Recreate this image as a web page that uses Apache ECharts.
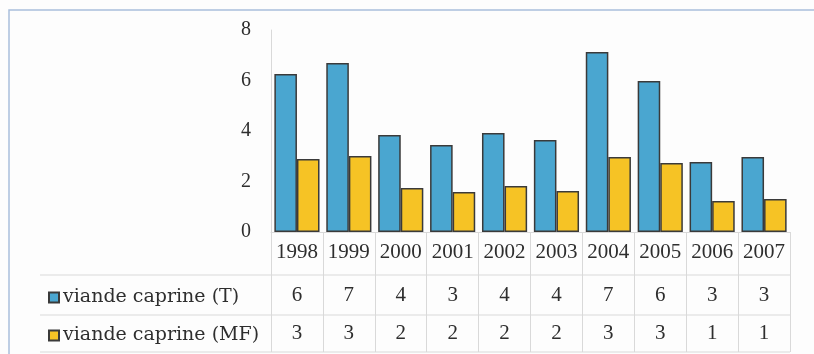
<!DOCTYPE html>
<html>
<head>
    <meta charset="utf-8">
    <title>viande caprine</title>
    <script src="https://cdn.jsdelivr.net/npm/echarts@6/dist/echarts.min.js"></script>
    <style>
        html, body { margin: 0; padding: 0; background: #fdfdfd; }
        #chart { width: 814px; height: 354px; }
    </style>
</head>
<body>
<div id="chart"></div>
<script type="text/javascript">
    // ---- data ----
    var years = ['1998', '1999', '2000', '2001', '2002', '2003', '2004', '2005', '2006', '2007'];
    var seriesNames = ['viande caprine (T)', 'viande caprine (MF)'];
    var valuesT = [6.26, 6.69, 3.84, 3.45, 3.92, 3.64, 7.13, 5.98, 2.77, 2.97];
    var valuesMF = [2.89, 3.01, 1.74, 1.58, 1.82, 1.62, 2.97, 2.73, 1.23, 1.31];
    // values printed in the table under the chart
    var tableT = [6, 7, 4, 3, 4, 4, 7, 6, 3, 3];
    var tableMF = [3, 3, 2, 2, 2, 2, 3, 3, 1, 1];
    var yTicks = [0, 2, 4, 6, 8];

    var serif = '"Liberation Serif", "DejaVu Serif", serif';
    var wideSerif = '"DejaVu Serif", "Liberation Serif", serif';
    var blue = '#4aa6d0';
    var yellow = '#f6c325';
    var gridLine = '#d9d9d9';
    var textColor = '#2e2e2e';

    var myChart = echarts.init(document.getElementById('chart'));

    // one hidden-line axis per table row, labels drawn from the table arrays
    function tableAxis(rowValues, offset) {
        return {
            type: 'category',
            data: years,
            gridIndex: 0,
            position: 'bottom',
            offset: offset,
            axisLine: {show: false},
            axisTick: {show: false},
            axisLabel: {
                interval: 0,
                margin: 0,
                verticalAlign: 'middle',
                fontFamily: serif,
                fontSize: 21,
                color: textColor,
                formatter: function (v, i) { return String(rowValues[i]); }
            }
        };
    }

    function rowLegend(name, top) {
        return {
            data: [name], orient: 'vertical', left: 43, top: top,
            icon: 'rect', itemWidth: 10, itemHeight: 10, itemGap: 0,
            textStyle: {fontFamily: wideSerif, fontSize: 19, color: textColor, padding: [0, 0, 0, -1]},
            selectedMode: false
        };
    }

    myChart.setOption({
        backgroundColor: '#fdfdfd',
        animation: false,
        grid: {left: 271, right: 24, top: 30, bottom: 122},
        legend: [
            rowLegend(seriesNames[0], 283),
            rowLegend(seriesNames[1], 321)
        ],
        xAxis: [
            {
                type: 'category',
                data: years,
                axisLine: {show: true, lineStyle: {color: gridLine}},
                axisTick: {show: true, interval: 0, length: 120, lineStyle: {color: gridLine}},
                axisLabel: {
                    interval: 0,
                    margin: 20,
                    verticalAlign: 'middle',
                    fontFamily: serif,
                    fontSize: 21,
                    color: textColor
                }
            },
            tableAxis(tableT, 63),
            tableAxis(tableMF, 101)
        ],
        yAxis: {
            type: 'value',
            min: yTicks[0],
            max: yTicks[yTicks.length - 1],
            interval: 2,
            axisLine: {show: true, lineStyle: {color: gridLine}},
            axisTick: {show: false},
            splitLine: {show: false},
            axisLabel: {margin: 20, fontFamily: serif, fontSize: 20, color: textColor}
        },
        series: [
            {
                name: seriesNames[0],
                type: 'bar',
                data: valuesT,
                barGap: '0%',
                barCategoryGap: '13%',
                itemStyle: {color: blue, borderColor: '#3a3a3a', borderWidth: 1.5}
            },
            {
                name: seriesNames[1],
                type: 'bar',
                data: valuesMF,
                itemStyle: {color: yellow, borderColor: '#3a3a3a', borderWidth: 1.5}
            }
        ],
        graphic: [
            // outer frame
            {type: 'rect', shape: {x: 9, y: 10, width: 900, height: 400},
                style: {fill: 'none', stroke: '#a9bfdc', lineWidth: 1.5}, silent: true},
            // table row rules
            {type: 'line', shape: {x1: 40, y1: 275, x2: 790, y2: 275}, style: {stroke: gridLine}, silent: true},
            {type: 'line', shape: {x1: 40, y1: 315, x2: 790, y2: 315}, style: {stroke: gridLine}, silent: true},
            {type: 'line', shape: {x1: 40, y1: 352, x2: 790, y2: 352}, style: {stroke: gridLine}, silent: true}
        ]
    });
</script>
</body>
</html>
